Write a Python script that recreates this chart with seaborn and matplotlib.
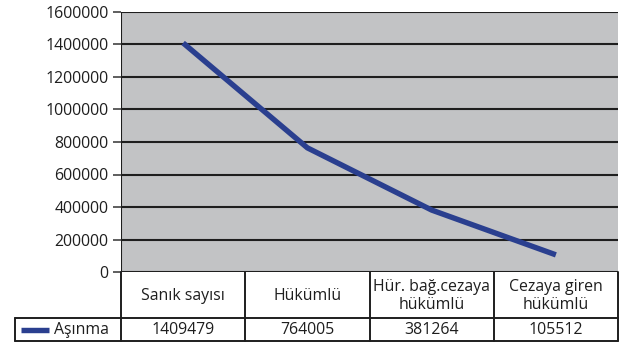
import matplotlib
matplotlib.use("Agg")
import matplotlib.pyplot as plt
import seaborn as sns
import pandas as pd
from matplotlib.lines import Line2D

categories = ["Sanık sayısı", "Hükümlü", "Hür. bağ.cezaya\nhükümlü", "Cezaya giren\nhükümlü"]
values = [1409479, 764005, 381264, 105512]
series_name = "Aşınma"
yticks = [0, 200000, 400000, 600000, 800000, 1000000, 1200000, 1400000, 1600000]

LINE_COLOR = "#2a3f8f"
PANEL_GRAY = "#c2c3c5"
INK = "#1e1e1e"
FS = 11.4

sns.set_theme(style="white")
plt.rcParams["font.family"] = ["Open Sans", "DejaVu Sans"]
plt.rcParams["font.size"] = FS

W, H = 620, 344
fig = plt.figure(figsize=(W / 100, H / 100), dpi=100)

# axes box in pixel coordinates
left, right, top, bottom = 121, 618, 12, 272
ax = fig.add_axes([left / W, (H - bottom) / H, (right - left) / W, (bottom - top) / H])
ax.set_facecolor(PANEL_GRAY)

df = pd.DataFrame({"pos": range(len(categories)), "value": values, "series": series_name})
sns.lineplot(data=df, x="pos", y="value", ax=ax, color=LINE_COLOR, linewidth=3.9,
             legend=False, solid_capstyle="butt", solid_joinstyle="round")

ax.set_xlim(-0.5, len(categories) - 0.5)
ax.set_ylim(0, 1600000)
ax.set_yticks(yticks)
ax.set_yticklabels([str(t) for t in yticks], fontsize=FS, color=INK)
ax.set_xticks([])
ax.set_xlabel("")
ax.set_ylabel("")
ax.tick_params(axis="y", length=6, width=1.1, color="#333333", pad=3, left=True)
for t in yticks[1:]:
    ax.axhline(t, color=INK, lw=1.5, zorder=1)
for side in ["left", "bottom", "top", "right"]:
    ax.spines[side].set_visible(False)
ax.axvline(-0.5, color=INK, lw=1.5, zorder=3)
ax.axhline(0, color=INK, lw=1.5, zorder=3)

# data table below the plot, in pixel coordinates of the figure
def px(x, y):
    return x / W, (H - y) / H

row1_bottom, row2_bottom = 318, 341
table_left = 15
lw = 1.4
col_edges = [left + i * (right - left) / len(categories) for i in range(len(categories) + 1)]

def line(x0, y0, x1, y1):
    a, b = px(x0, y0)
    c, d = px(x1, y1)
    fig.add_artist(Line2D([a, c], [b, d], color=INK, lw=lw))

for x in col_edges:
    line(x, bottom, x, row2_bottom)
line(table_left, row1_bottom, table_left, row2_bottom)
line(table_left, row1_bottom, right, row1_bottom)
line(table_left, row2_bottom, right, row2_bottom)

for i, cat in enumerate(categories):
    cx = (col_edges[i] + col_edges[i + 1]) / 2
    fx, fy = px(cx, (bottom + row1_bottom) / 2 + 1)
    fig.text(fx, fy, cat, ha="center", va="center", fontsize=FS, color=INK,
             linespacing=1.1)
    fx, fy = px(cx, (row1_bottom + row2_bottom) / 2 + 0.5)
    fig.text(fx, fy, str(values[i]), ha="center", va="center", fontsize=FS, color=INK)

# legend key inside the table
ly = (row1_bottom + row2_bottom) / 2
line_a = px(21, ly)
line_b = px(49, ly)
fig.add_artist(Line2D([line_a[0], line_b[0]], [line_a[1], line_b[1]], color=LINE_COLOR,
                      lw=3.9, solid_capstyle="butt"))
fx, fy = px(54, ly + 0.5)
fig.text(fx, fy, series_name, ha="left", va="center", fontsize=FS, color=INK)

fig.savefig("out.png", dpi=100)
